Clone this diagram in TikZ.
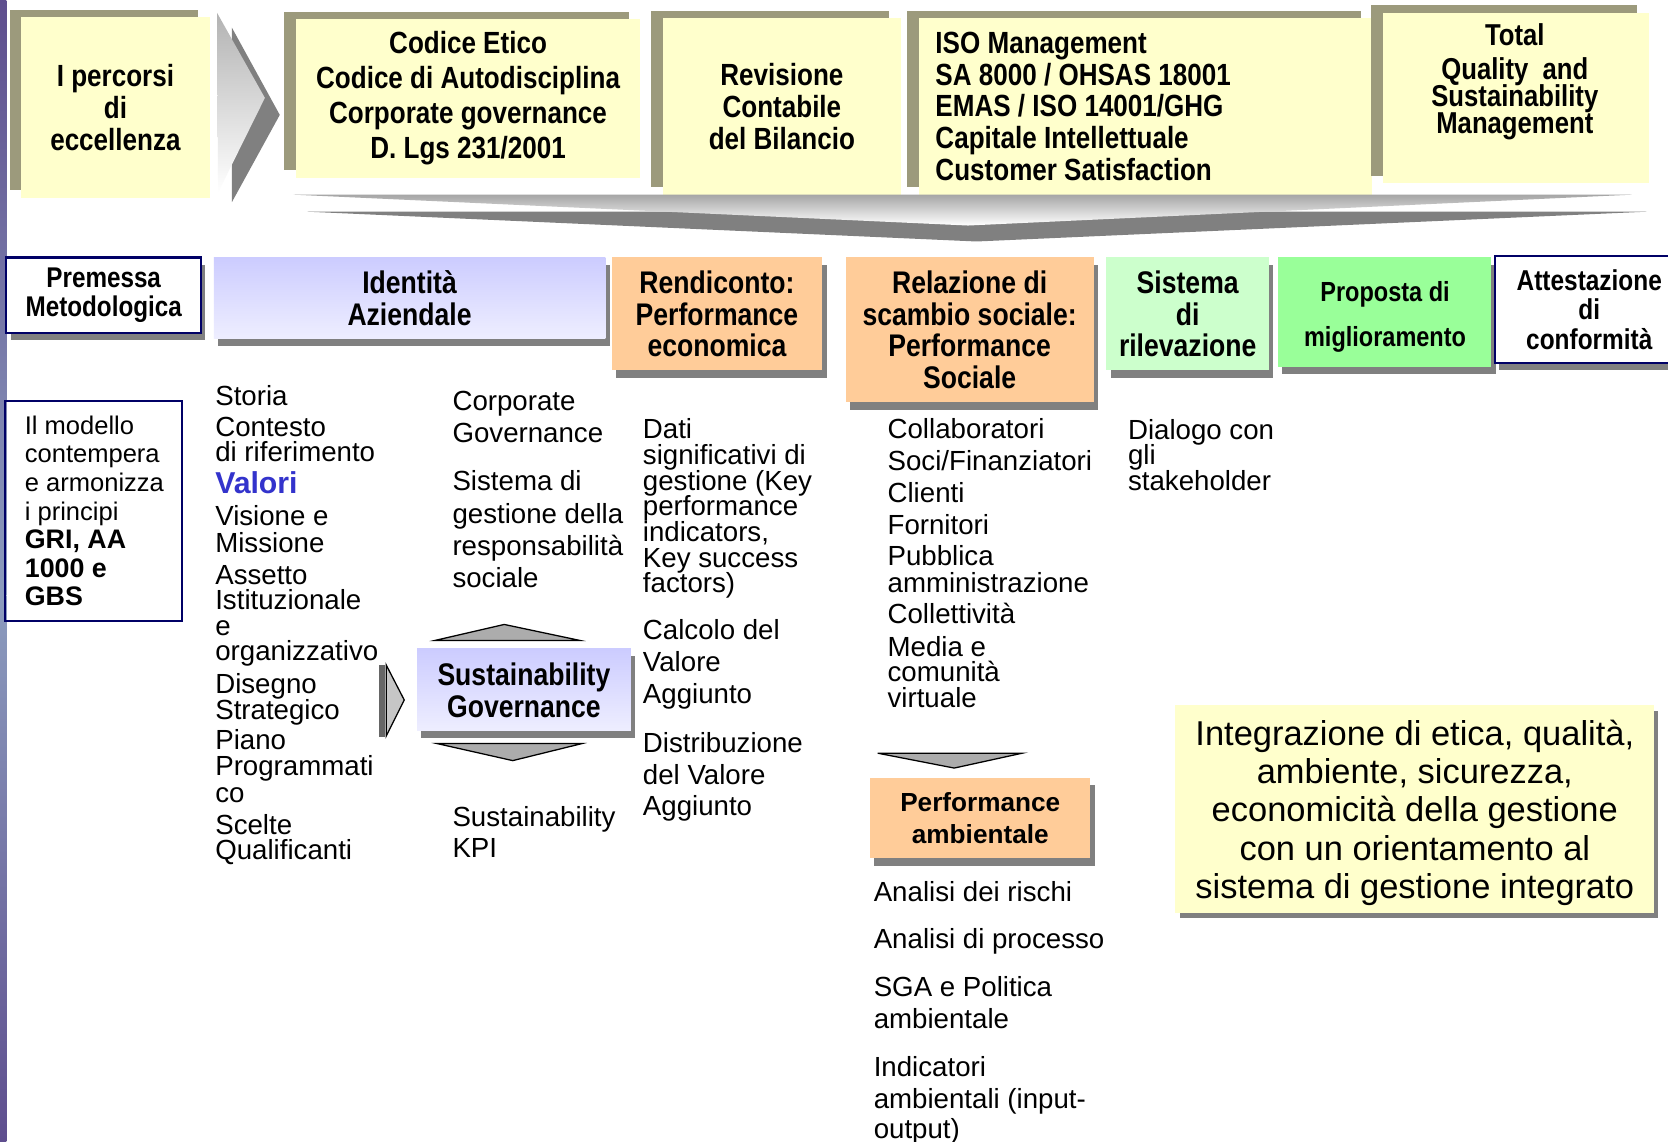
\documentclass[tikz,border=0pt]{standalone}
\usepackage{fontspec}
\setmainfont{Liberation Sans}
\newfontfamily\narrowfont[FakeStretch=0.85]{Liberation Sans}
\usepackage{tikz}
\usetikzlibrary{fit,shadows}

\definecolor{yel}{HTML}{FFFFCC}
\definecolor{olivegray}{HTML}{9C9A7C}
\definecolor{lav}{HTML}{CCCCFF}
\definecolor{lavlight}{HTML}{EEEEFF}
\definecolor{peach}{HTML}{FFCC99}
\definecolor{mint}{HTML}{CCFFCC}
\definecolor{lgreen}{HTML}{99FF99}
\definecolor{bordernavy}{HTML}{000066}
\definecolor{shgray}{HTML}{808080}
\definecolor{valblue}{HTML}{3333CC}
\definecolor{strippurple}{HTML}{5E4E8E}
\definecolor{stripblue}{HTML}{8C9CBE}
\definecolor{stripnavy}{HTML}{2E2E62}

\newcommand{\titfont}[2]{\fontsize{#1}{#2}\selectfont\narrowfont\bfseries}
\newcommand{\tightlines}{\lineskiplimit=-20pt\relax}
\newcommand{\bigbold}[1]{{\fontsize{12.6}{13.5}\selectfont\bfseries #1}}

\tikzset{
  yelbox/.style={fill=yel, inner sep=0pt,
    drop shadow={shadow xshift=-5.5pt, shadow yshift=3.5pt, fill=olivegray, opacity=1}},
  grayshadow/.style={drop shadow={shadow xshift=2pt, shadow yshift=-3.5pt, fill=shgray, opacity=1}},
  hdbox/.style={grayshadow, inner sep=0pt},
  frbox/.style={hdbox, fill=white, draw=bordernavy, line width=1pt},
  boxtext/.style={align=center, inner sep=0pt, font=\titfont{14.7}{15}},
  body/.style={anchor=base west, inner sep=0pt, font=\fontsize{13}{12}\selectfont},
  flatarrow/.style={fill=gray!65, draw=black, line width=0.6pt}
}

\begin{document}
\begin{tikzpicture}[x=0.5pt, y=-0.5pt]
\useasboundingbox (0,0) rectangle (1568,1073);
\fill[white] (0,0) rectangle (1568,1073);
\shade[top color=strippurple, bottom color=stripblue] (0,0) rectangle (6,560);
\shade[top color=stripblue, middle color=stripnavy, bottom color=strippurple] (0,560) rectangle (6,1073);

\node[yelbox, fit={(20,16)(197,186)}] (percorsi) {};
\node[boxtext, font=\titfont{14.4}{15}] (percorsi-t) at (percorsi) {I percorsi\\di\\eccellenza};
\fill[gray] (218,26) -- (263,108) -- (218,190) -- cycle;
\shade[top color=gray!60, bottom color=white] (204,12) -- (249,92) -- (205,181) -- cycle;
\node[yelbox, fit={(278,18)(602,167)}] (codice) {};
\node[boxtext, font=\titfont{14.4}{16.5}] (codice-t) at (codice)
  {Codice Etico\\Codice di Autodisciplina\\Corporate governance\\D. Lgs 231/2001};
\node[yelbox, fit={(623,17)(847,183)}] (revisione) {};
\node[boxtext, font=\titfont{14.4}{15}] (revisione-t) at (revisione) {Revisione\\Contabile\\del Bilancio};
\node[yelbox, fit={(864,17)(1290,183)}] (iso) {};
\node[anchor=west, align=left, inner sep=0pt, font=\titfont{14.4}{15}] (iso-t) at (879,100)
  {ISO Management\\SA 8000 / OHSAS 18001\\EMAS / ISO 14001/GHG\\Capitale Intellettuale\\Customer Satisfaction};
\node[yelbox, fit={(1300,12)(1550,172)}] (tqm) {};
\node[boxtext, font=\titfont{14.2}{12.75}\tightlines] (tqm-t) at (1424,77)
  {Total\\[3.25pt]Quality~~and\\Sustainability\\Management};

\fill[gray] (289,199) -- (1548,199) -- (918,227) -- cycle;
\shade[top color=gray!70, bottom color=white] (276,183) -- (1534,183) -- (910,212) -- cycle;

\node[frbox, fit={(6,242)(189,313)}] (premessa) {};
\node[boxtext, font=\titfont{13.4}{14}] (premessa-t) at (premessa) {Premessa\\Metodologica};
\node[hdbox, fit={(201,242)(569,318)}, top color=lav, bottom color=lavlight] (identita) {};
\node[boxtext] (identita-t) at (identita) {Identità\\Aziendale};
\node[hdbox, fit={(575,242)(773,348)}, fill=peach] (rendiconto) {};
\node[boxtext] (rendiconto-t) at (rendiconto) {Rendiconto:\\Performance\\economica};
\node[hdbox, fit={(795,242)(1028,378)}, fill=peach] (relazione) {};
\node[boxtext] (relazione-t) at (relazione) {Relazione di\\scambio sociale:\\Performance\\Sociale};
\node[hdbox, fit={(1040,242)(1193,348)}, fill=mint] (sistema) {};
\node[boxtext] (sistema-t) at (sistema) {Sistema\\di\\rilevazione};
\node[hdbox, fit={(1201,242)(1402,345)}, fill=lgreen] (proposta) {};
\node[boxtext, font=\titfont{13}{21.5}] (proposta-t) at (1302,298) {Proposta di\\miglioramento};
\node[frbox, fit={(1405,241)(1584,341)}] (attestazione) {};
\node[boxtext, font=\titfont{13.5}{13.75}] (attestazione-t) at (1494,291) {Attestazione\\di\\conformità};

\node[fit={(5,377)(171,584)}, draw=bordernavy, line width=1pt, inner sep=0pt] (modello) {};
\foreach \y/\t [count=\i] in {408/Il modello, 435/contempera, 462/e armonizza, 489/i principi,
  516/{\bigbold{GRI, AA}}, 543/{\bigbold{1000 e}}, 569/{\bigbold{GBS}}}
  \node[body, font=\fontsize{12}{13.5}\selectfont] (modello\i) at (23,\y) {\t};

\foreach \y/\t [count=\i] in {381/Storia, 410/Contesto, 434/di riferimento,
  464/{\textcolor{valblue}{\fontsize{14.2}{12}\selectfont\bfseries Valori}}, 494/Visione e, 519/Missione, 549/Assetto,
  573/Istituzionale, 597/e, 621/organizzativo, 652/Disegno, 676/Strategico, 705/Piano,
  729/Programmati, 754/co, 784/Scelte, 808/Qualificanti}
  \node[body] (ident\i) at (202,\y) {\t};

\foreach \y/\t [count=\i] in {386/Corporate, 416/Governance, 461/Sistema di, 492/gestione della,
  522/responsabilità, 552/sociale, 777/Sustainability, 806/KPI}
  \node[body] (gov\i) at (425,\y) {\t};

\foreach \y/\t [count=\i] in {412/Dati, 437/significativi di, 461/gestione (Key, 485/performance,
  509/{indicators,}, 533/Key success, 557/factors), 601/Calcolo del, 631/Valore, 661/Aggiunto,
  707/Distribuzione, 737/del Valore, 767/Aggiunto}
  \node[body] (econ\i) at (604,\y) {\t};

\foreach \y/\t [count=\i] in {412/Collaboratori, 442/{Soci/Finanziatori}, 472/Clienti, 502/Fornitori,
  532/Pubblica, 557/amministrazione, 586/Collettività, 617/Media e, 641/comunità, 665/virtuale}
  \node[body] (soc\i) at (834,\y) {\t};

\foreach \y/\t [count=\i] in {413/Dialogo con, 437/gli, 461/stakeholder}
  \node[body] (ril\i) at (1060,\y) {\t};

\fill[gray!80!black] (356,625) rectangle (362,693);
\draw[fill=gray!45, line width=0.6pt] (363,625) -- (380,658) -- (363,692) -- cycle;
\draw[flatarrow] (409,602) -- (545,602) -- (474,587) -- cycle;
\node[hdbox, fit={(392,610)(593,687)}, top color=lav, bottom color=lavlight] (sustgov) {};
\node[boxtext] (sustgov-t) at (sustgov) {Sustainability\\Governance};
\draw[flatarrow] (411,699) -- (547,699) -- (482,715) -- cycle;

\draw[flatarrow] (825,708) -- (961,708) -- (897,722) -- cycle;
\node[grayshadow, fit={(818,731)(1025,807)}, fill=peach, inner sep=0pt] (perfamb) {};
\node[align=center, inner sep=0pt, font=\fontsize{12.3}{15}\selectfont\bfseries] (perfamb-t) at (perfamb)
  {Performance\\ambientale};
\foreach \y/\t [count=\i] in {847/Analisi dei rischi, 892/Analisi di processo, 937/SGA e Politica,
  967/ambientale, 1012/Indicatori, 1042/ambientali (input-, 1070/output)}
  \node[body] (amb\i) at (821,\y) {\t};

\node[fit={(1105,663)(1555,858)}, fill=yel, inner sep=0pt,
  drop shadow={shadow xshift=2pt, shadow yshift=-2.5pt, fill=shgray, opacity=1}] (integrazione) {};
\node[align=center, inner sep=0pt, font=\fontsize{16.2}{18}\selectfont] (integrazione-t) at (1330,764)
  {Integrazione di etica, qualità,\\ambiente, sicurezza,\\economicità della gestione\\con un orientamento al\\sistema di gestione integrato};
\end{tikzpicture}
\end{document}
